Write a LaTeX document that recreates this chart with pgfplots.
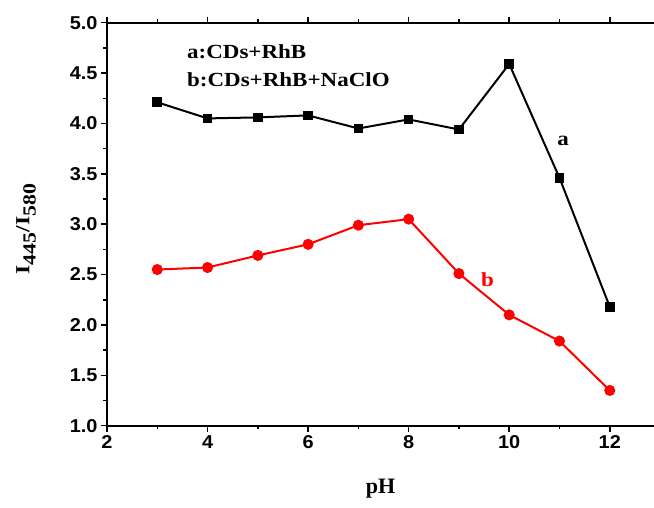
\documentclass[border=0pt]{standalone}
\usepackage{fontspec}
\setmainfont{Liberation Serif}
\newfontfamily\annot{Liberation Serif}[FakeStretch=1.15]
\newfontfamily\ylab{Liberation Serif}[FakeStretch=1.18]
\newfontfamily\arial{Liberation Sans}[FakeStretch=1.07]
\usepackage{pgfplots}
\pgfplotsset{compat=1.18}

\begin{document}
\begin{tikzpicture}
\begin{axis}[
    name=ax,
    scale only axis,
    width=547bp, height=403bp,
    xmin=2, xmax=12.88,
    ymin=1, ymax=5,
    axis x line=box, axis y line=left,
    axis line style={-, line width=2bp},
    xtick={2,4,6,8,10,12},
    minor x tick num=1,
    ytick={1,1.5,...,5},
    minor y tick num=1,
    tick align=outside,
    major tick length=6bp,
    minor tick length=3.5bp,
    every tick/.style={black, line width=1.5bp},
    /pgf/number format/assume math mode=true,
    ticklabel style={font=\arial\bfseries\fontsize{18.6bp}{19bp}\selectfont},
    yticklabel={\pgfmathprintnumber[fixed,fixed zerofill,precision=1]{\tick}},
    xlabel={\bfseries pH},
    ylabel={I\raisebox{-0.32em}{\fontsize{18.5bp}{19bp}\selectfont 445}/I\raisebox{-0.32em}{\fontsize{18.5bp}{19bp}\selectfont 580}},
    xlabel style={font=\fontsize{22bp}{22bp}\selectfont, at={(axis description cs:0.5,0)}, anchor=center, yshift=-63bp},
    ylabel style={font=\ylab\bfseries\fontsize{20bp}{20bp}\selectfont, at={(axis description cs:-0.148,0.488)}, anchor=center},
    clip=false,
]
% a: CDs+RhB
\addplot[black, line width=2bp, mark=square*, mark size=3.8bp] coordinates {
    (3,4.21) (4,4.05) (5,4.06) (6,4.08) (7,3.95) (8,4.04) (9,3.94) (10,4.59) (11,3.46) (12,2.18)
};
% b: CDs+RhB+NaClO
\addplot[red, line width=2bp, mark=*, mark size=4.5bp] coordinates {
    (3,2.55) (4,2.57) (5,2.69) (6,2.80) (7,2.99) (8,3.05) (9,2.51) (10,2.10) (11,1.84) (12,1.35)
};
\node[anchor=west, inner sep=0pt, font=\annot\bfseries\fontsize{20bp}{20bp}\selectfont] at (axis cs:3.59,4.71) {a:CDs+RhB};
\node[anchor=west, inner sep=0pt, font=\annot\bfseries\fontsize{20bp}{20bp}\selectfont] at (axis cs:3.59,4.43) {b:CDs+RhB+NaClO};
\node[font=\annot\bfseries\fontsize{20bp}{20bp}\selectfont] at (axis cs:11.07,3.83) {a};
\node[red, font=\annot\bfseries\fontsize{20bp}{20bp}\selectfont] at (axis cs:9.57,2.45) {b};
\end{axis}
\pgfresetboundingbox
\path ([xshift=-107bp,yshift=-82bp]ax.south west) rectangle ([yshift=22.7bp]ax.north east);
\end{tikzpicture}
\end{document}
